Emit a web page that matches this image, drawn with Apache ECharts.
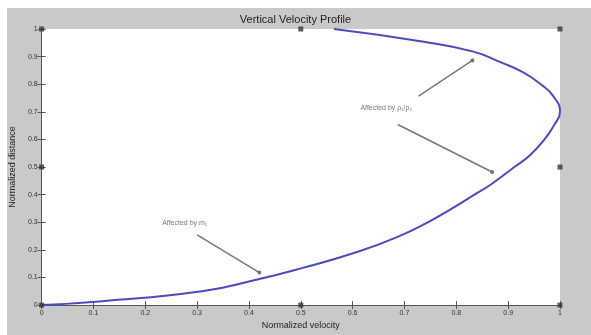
<!DOCTYPE html>
<html>
<head>
<meta charset="utf-8">
<script src="https://cdn.jsdelivr.net/npm/echarts@6/dist/echarts.min.js"></script>
<style>
  body { margin: 0; background: #fff; }
  #bg { position: absolute; left: 7px; top: 8px; width: 584px; height: 327px; background: #c9c9c9; }
  #chart { position: absolute; left: 0; top: 0; width: 591px; height: 335px; }
</style>
</head>
<body>
<div id="bg"></div>
<div id="chart"></div>
<script>
// velocity profile (ordered along the curve)
const velocity = [0, 0.117, 0.309, 0.41, 0.5, 0.61, 0.69, 0.745, 0.792, 0.835, 0.866, 0.912, 0.942, 0.97, 0.988, 1.0, 0.987, 0.963, 0.929, 0.885, 0.833, 0.737, 0.564]
const distance = [0, 0.014, 0.05, 0.09, 0.133, 0.193, 0.25, 0.3, 0.35, 0.4, 0.436, 0.5, 0.543, 0.6, 0.65, 0.7, 0.757, 0.8, 0.843, 0.88, 0.918, 0.954, 1.0]

// annotation arrows [fromX, fromY, toX, toY]
const arrows = [
  [0.727, 0.757, 0.831, 0.886],
  [0.687, 0.654, 0.869, 0.482],
  [0.30, 0.254, 0.42, 0.118]
]
const notes = [
  { text: 'Affected by ρ₁/ρ₂', x: 0.665, y: 0.715 },
  { text: 'Affected by m₁', x: 0.276, y: 0.296 }
]
// selection handles on the axes box
const handles = [[0, 0], [0.5, 0], [1, 0], [0, 0.5], [1, 0.5], [0, 1], [0.5, 1], [1, 1]]

const chart = echarts.init(document.getElementById('chart'))

const axisFont = { fontSize: 7, color: '#333', fontFamily: 'Liberation Sans' }
const axisLine = { lineStyle: { color: '#555', width: 1 } }

const option = {
  backgroundColor: 'transparent',
  animation: false,
  title: {
    text: 'Vertical Velocity Profile',
    left: 'center',
    top: 9,
    textStyle: { fontSize: 11, fontWeight: 'normal', color: '#222', fontFamily: 'Liberation Sans' }
  },
  grid: {
    left: 39, right: 31, top: 29, bottom: 26,
    show: true, backgroundColor: '#fff', borderWidth: 0
  },
  xAxis: [
    {
      type: 'value', min: 0, max: 1, interval: 0.1,
      name: 'Normalized velocity', nameLocation: 'middle', nameGap: 15,
      nameTextStyle: { fontSize: 9, color: '#222', fontFamily: 'Liberation Sans' },
      axisLine, axisTick: { inside: true, length: 4, lineStyle: { color: '#555' } },
      axisLabel: Object.assign({ margin: 4 }, axisFont),
      splitLine: { show: false }
    },
    {
      type: 'value', min: 0, max: 1, interval: 0.1, position: 'top',
      axisLine, axisTick: { inside: true, length: 4, lineStyle: { color: '#555' } },
      axisLabel: { show: false }, splitLine: { show: false }
    }
  ],
  yAxis: [
    {
      type: 'value', min: 0, max: 1, interval: 0.1,
      name: 'Normalized distance', nameLocation: 'middle', nameGap: 13,
      nameTextStyle: { fontSize: 9, color: '#222', fontFamily: 'Liberation Sans' },
      axisLine, axisTick: { inside: true, length: 4, lineStyle: { color: '#555' } },
      axisLabel: Object.assign({ margin: 4 }, axisFont),
      splitLine: { show: false }
    },
    {
      type: 'value', min: 0, max: 1, interval: 0.1, position: 'right',
      axisLine, axisTick: { inside: true, length: 4, lineStyle: { color: '#555' } },
      axisLabel: { show: false }, splitLine: { show: false }
    }
  ],
  series: [
    {
      type: 'line',
      data: velocity.map((v, i) => [v, distance[i]]),
      smooth: 0.5,
      showSymbol: false,
      lineStyle: { color: '#4b4bbd', width: 2 },
      markLine: {
        silent: true,
        symbol: ['none', 'circle'],
        symbolSize: 4,
        itemStyle: { color: '#111' },
        lineStyle: { color: '#777', width: 1.5, type: 'solid' },
        label: { show: false },
        data: arrows.map(a => [{ coord: [a[0], a[1]] }, { coord: [a[2], a[3]] }])
      }
    },
    {
      type: 'scatter',
      data: notes.map(n => [n.x, n.y, n.text]),
      symbolSize: 0,
      label: {
        show: true, position: 'inside',
        formatter: p => p.data[2],
        fontSize: 7, color: '#555', fontFamily: 'Liberation Sans'
      }
    },
    {
      type: 'scatter',
      data: handles,
      symbol: 'rect',
      symbolSize: 5,
      clip: false,
      itemStyle: { color: '#333' },
      z: 5
    }
  ]
}

chart.setOption(option)
</script>
</body>
</html>
